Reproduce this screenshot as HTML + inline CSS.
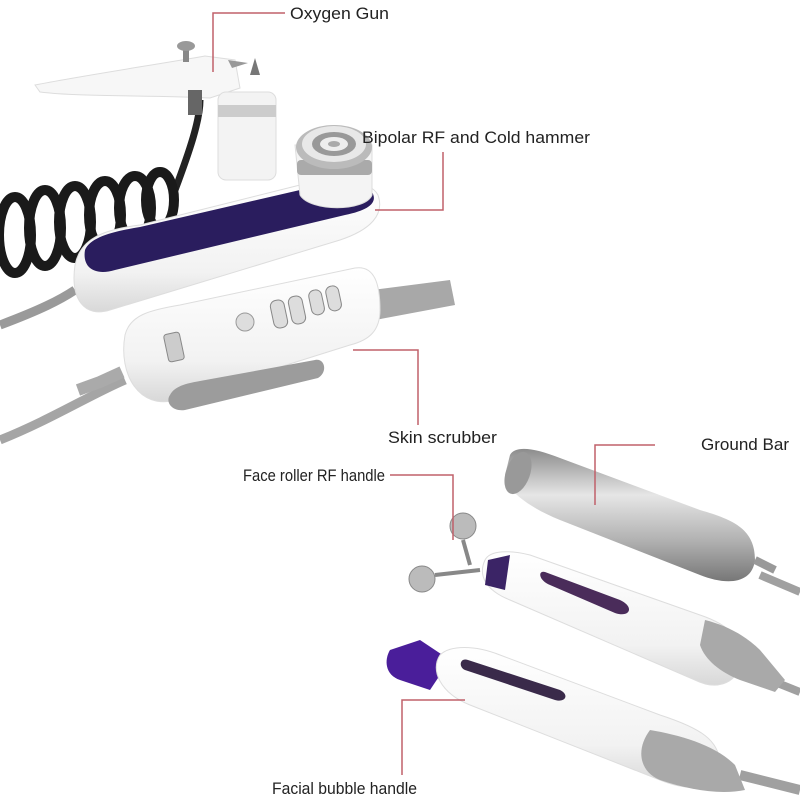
<!DOCTYPE html>
<html><head><style>
html,body{margin:0;padding:0;background:#fff;width:800px;height:800px;overflow:hidden}
svg{display:block}
text{font-family:"Liberation Sans","DejaVu Sans",sans-serif;font-size:17px;fill:#222}
</style></head><body>
<svg width="800" height="800" viewBox="0 0 800 800" xmlns="http://www.w3.org/2000/svg">
<defs>
<linearGradient id="sil" x1="0" y1="0" x2="0" y2="1">
<stop offset="0" stop-color="#8c8c8c"/><stop offset="0.35" stop-color="#e6e6e6"/><stop offset="0.7" stop-color="#b0b0b0"/><stop offset="1" stop-color="#777"/>
</linearGradient>
<linearGradient id="wh" x1="0" y1="0" x2="0" y2="1">
<stop offset="0" stop-color="#fff"/><stop offset="0.7" stop-color="#f2f2f2"/><stop offset="1" stop-color="#d8d8d8"/>
</linearGradient>
</defs>
<rect width="800" height="800" fill="#fff"/>

<path d="M0,325 C40,310 60,300 75,290" stroke="#9a9a9a" stroke-width="9" fill="none"/>
<path d="M0,440 C50,420 90,395 125,380" stroke="#a5a5a5" stroke-width="9" fill="none"/>
<path d="M760,575 L800,592" stroke="#a0a0a0" stroke-width="8"/>
<path d="M770,680 L800,692" stroke="#a0a0a0" stroke-width="8"/>
<path d="M740,775 L800,790" stroke="#a0a0a0" stroke-width="10"/>

<path d="M175,190 C190,150 200,120 200,100" stroke="#222" stroke-width="7" fill="none"/>
<g stroke="#1a1a1a" stroke-width="10" fill="none">
<ellipse cx="15" cy="235" rx="16" ry="38"/>
<ellipse cx="45" cy="228" rx="16" ry="38"/>
<ellipse cx="75" cy="222" rx="16" ry="36"/>
<ellipse cx="105" cy="215" rx="16" ry="34"/>
<ellipse cx="135" cy="208" rx="16" ry="32"/>
<ellipse cx="160" cy="200" rx="14" ry="28"/>
</g>

<path d="M75,265 C80,240 100,230 140,225 L300,185 C340,178 370,180 378,195 C385,215 370,230 340,240 L110,310 C85,318 70,300 75,265 Z" fill="url(#wh)" stroke="#ddd"/>
<path d="M85,250 C90,238 110,232 140,227 L300,190 C330,184 360,182 372,192 C378,202 370,210 345,215 L115,270 C95,276 82,268 85,250 Z" fill="#2a1d5e"/>
<path d="M295,145 L300,195 C310,212 365,212 372,195 L372,145 Z" fill="#f4f4f4" stroke="#ddd"/>
<rect x="297" y="160" width="75" height="15" fill="#aaa" rx="4"/>
<ellipse cx="334" cy="147" rx="38" ry="22" fill="#bbb"/>
<ellipse cx="334" cy="144" rx="32" ry="18" fill="#e8e8e8"/>
<ellipse cx="334" cy="144" rx="22" ry="12" fill="#999"/>
<ellipse cx="334" cy="144" rx="14" ry="7" fill="#eee"/>
<ellipse cx="334" cy="144" rx="6" ry="3" fill="#aaa"/>

<path d="M35,85 C80,76 160,64 205,56 L235,60 L240,88 L210,98 C150,95 80,97 40,92 Z" fill="#f7f7f7" stroke="#ddd"/>
<rect x="183" y="48" width="6" height="14" fill="#888"/>
<ellipse cx="186" cy="46" rx="9" ry="5" fill="#999"/>
<path d="M228,60 L248,63 L232,68 Z" fill="#999"/>
<path d="M255,58 L260,75 L250,75 Z" fill="#777"/>
<rect x="218" y="92" width="58" height="88" rx="8" fill="#f3f3f3" stroke="#ddd"/>
<rect x="218" y="105" width="58" height="12" fill="#ccc"/>
<rect x="188" y="90" width="14" height="25" fill="#666"/>

<path d="M372,290 L450,280 L455,305 L375,320 Z" fill="#a8a8a8"/>
<path d="M125,335 C130,315 150,310 180,305 L355,268 C375,265 380,285 380,310 C380,330 370,340 350,345 L175,400 C140,410 118,375 125,335 Z" fill="url(#wh)" stroke="#ddd"/>
<path d="M170,395 C175,385 190,383 200,381 L315,360 C325,358 328,372 318,378 L185,410 C172,412 165,402 170,395 Z" fill="#9c9c9c"/>
<rect x="166" y="333" width="16" height="28" rx="3" fill="#ccc" stroke="#888" transform="rotate(-12 174 347)"/>
<circle cx="245" cy="322" r="9" fill="#ddd" stroke="#999"/>
<g fill="#ddd" stroke="#888">
<rect x="272" y="300" width="14" height="28" rx="6" transform="rotate(-12 279 314)"/>
<rect x="290" y="296" width="14" height="28" rx="6" transform="rotate(-12 297 310)"/>
<rect x="310" y="290" width="13" height="25" rx="6" transform="rotate(-12 316 302)"/>
<rect x="327" y="286" width="13" height="25" rx="6" transform="rotate(-12 333 298)"/>
</g>
<path d="M78,390 L100,382 L122,372" stroke="#aaa" stroke-width="12"/>

<path d="M510,455 C515,445 535,448 560,458 L700,510 C735,520 755,530 755,560 C752,585 725,585 700,575 L560,520 C530,508 505,490 505,475 Z" fill="url(#sil)"/>
<ellipse cx="518" cy="473" rx="12" ry="22" fill="#999" transform="rotate(20 518 473)"/>
<path d="M755,560 L775,570" stroke="#999" stroke-width="8"/>

<circle cx="463" cy="526" r="13" fill="#bbb" stroke="#888"/>
<circle cx="422" cy="579" r="13" fill="#bbb" stroke="#888"/>
<path d="M463,540 L470,565 M435,575 L480,570" stroke="#888" stroke-width="4"/>
<path d="M485,560 C490,550 510,550 530,555 L700,615 C730,625 745,640 740,665 C735,685 715,690 695,680 L510,600 C485,590 478,575 485,560 Z" fill="url(#wh)" stroke="#ddd"/>
<path d="M488,560 L510,555 L505,590 L485,585 Z" fill="#3b2466"/>
<path d="M545,572 L620,600 C635,607 630,618 615,613 L550,585 C538,580 538,570 545,572 Z" fill="#4a2c5a"/>
<path d="M705,620 C725,625 745,635 760,650 L785,680 L775,692 L740,680 C720,672 705,660 700,645 Z" fill="#a9a9a9"/>

<path d="M390,650 L420,640 L450,660 L430,690 L400,680 C385,675 384,660 390,650 Z" fill="#4a1e9a"/>
<path d="M440,655 C450,645 475,645 500,655 L660,715 C700,728 720,740 720,765 C715,790 690,792 660,780 L470,705 C440,693 430,670 440,655 Z" fill="url(#wh)" stroke="#ddd"/>
<path d="M468,660 L560,690 C570,695 565,703 555,700 L465,670 C458,667 460,657 468,660 Z" fill="#3a2a4a"/>
<path d="M650,730 C680,735 715,745 735,765 L745,790 C720,795 690,790 660,780 C640,772 635,750 650,730 Z" fill="#a9a9a9"/>

<g stroke="#c0606a" stroke-width="1.5" fill="none">
<polyline points="213,72 213,13 285,13"/>
<polyline points="375,210 443,210 443,152"/>
<polyline points="353,350 418,350 418,425"/>
<polyline points="595,505 595,445 655,445"/>
<polyline points="390,475 453,475 453,540"/>
<polyline points="465,700 402,700 402,775"/>
</g>

<text x="290" y="19" textLength="99" lengthAdjust="spacingAndGlyphs">Oxygen Gun</text>
<text x="362" y="143" textLength="228" lengthAdjust="spacingAndGlyphs">Bipolar RF and Cold hammer</text>
<text x="388" y="443" textLength="109" lengthAdjust="spacingAndGlyphs">Skin scrubber</text>
<text x="701" y="450" textLength="88" lengthAdjust="spacingAndGlyphs">Ground Bar</text>
<text x="243" y="481" textLength="142" lengthAdjust="spacingAndGlyphs">Face roller RF handle</text>
<text x="272" y="794" textLength="145" lengthAdjust="spacingAndGlyphs">Facial bubble handle</text>
</svg>
</body></html>
